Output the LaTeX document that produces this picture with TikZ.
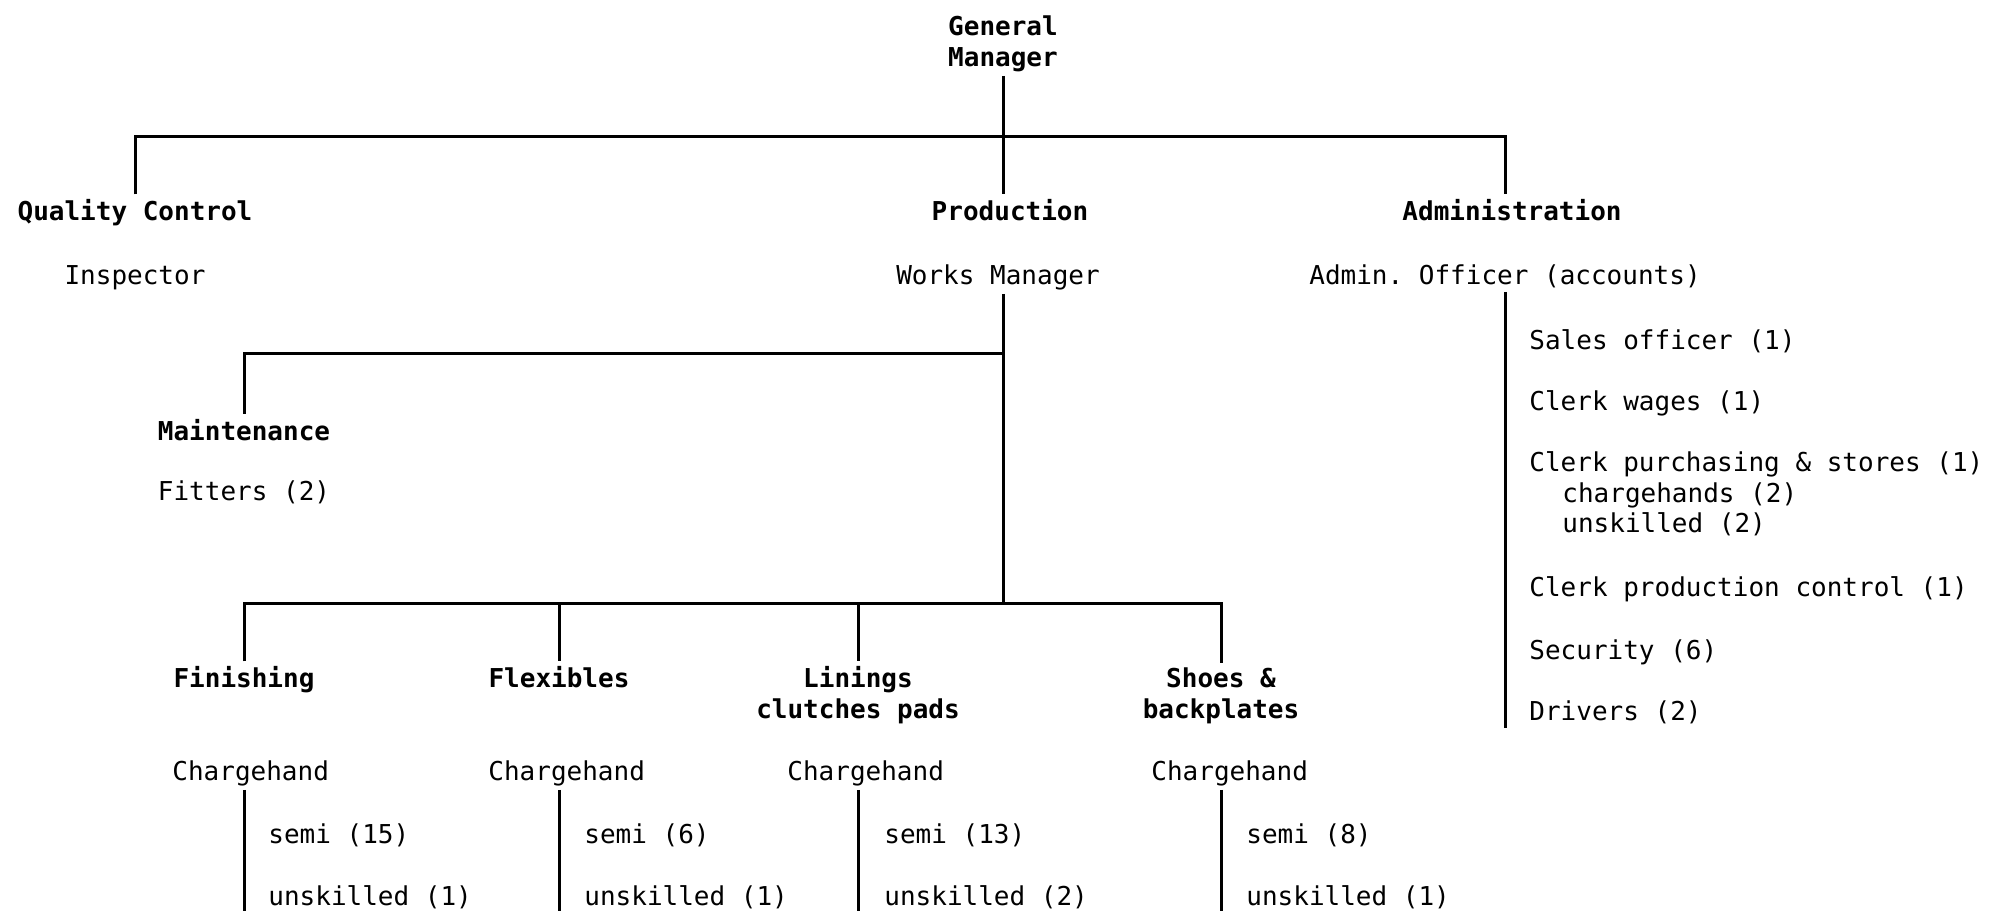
\documentclass[tikz,border=0pt]{standalone}
\usepackage{fontspec}
\setmonofont{DejaVu Sans Mono}
\usepackage{tikz}

\tikzset{
  post/.style={font=\ttfamily\fontsize{13}{15.5}\selectfont, inner xsep=0pt, inner ysep=2pt},
  dept/.style={post, font=\ttfamily\bfseries\fontsize{13}{15.5}\selectfont, align=center},
  link/.style={line width=1.5pt},
}

\begin{document}
\begin{tikzpicture}[x=0.5pt,y=-0.5pt]
\useasboundingbox (0,0) rectangle (1990,910);

% top level
\node[dept, anchor=base] (gm) at (1003,66) {General\\Manager};
\node[dept, anchor=base] (qc) at (135,220) {Quality Control};
\node[dept, anchor=base] (prod) at (1010,220) {Production};
\node[dept, anchor=base] (adm) at (1512,220) {Administration};
\node[post, anchor=base] (insp) at (135,284) {Inspector};
\node[post, anchor=base] (wm) at (998,284) {Works Manager};
\node[post, anchor=base] (admoff) at (1505,284) {Admin. Officer (accounts)};

\coordinate (topbus) at (0,136);
\coordinate (mntbus) at (0,353);
\coordinate (lowbus) at (0,603);

\draw[link] (gm.south) -- (gm |- topbus);
\draw[link] (qc.north) -- (qc.north |- topbus) -| (admoff |- adm.north);
\draw[link] (gm |- topbus) -- (gm |- prod.north);

% administration staff
\node[post, anchor=base west] (sales) at (1529,349) {Sales officer (1)};
\node[post, anchor=base west] (wages) at (1529,410) {Clerk wages (1)};
\node[post, anchor=base west] (purch) at (1529,471) {Clerk purchasing \& stores (1)};
\node[post, anchor=base west] (purchch) at (1562,502) {chargehands (2)};
\node[post, anchor=base west] (purchun) at (1562,532) {unskilled (2)};
\node[post, anchor=base west] (prodctl) at (1529,596) {Clerk production control (1)};
\node[post, anchor=base west] (secur) at (1529,659) {Security (6)};
\node[post, anchor=base west] (drivers) at (1529,720) {Drivers (2)};
\draw[link] (admoff.south) -- (admoff.south |- drivers.south);

% maintenance
\node[dept, anchor=base] (maint) at (244,440) {Maintenance};
\node[post, anchor=base] (fit) at (244,500) {Fitters (2)};
\draw[link] (wm.south -| gm) -- (gm |- lowbus);
\draw[link] (gm |- mntbus) -| (maint.north);

% production sections
\node[dept, anchor=base] (fin) at (244,687) {Finishing};
\node[dept, anchor=base] (flex) at (559,687) {Flexibles};
\node[dept, anchor=base] (lin) at (858,718) {Linings\\clutches pads};
\node[dept, anchor=base] (shoe) at (1221,718) {Shoes \&\\backplates};

\draw[link] (fin.north) -- (fin.north |- lowbus) -- (shoe.north |- lowbus) -- (shoe.north);
\draw[link] (flex.north |- lowbus) -- (flex.north);
\draw[link] (lin.north |- lowbus) -- (lin.north);

\node[post, anchor=base west] (ch1) at (172,780) {Chargehand};
\node[post, anchor=base west] (ch2) at (488,780) {Chargehand};
\node[post, anchor=base west] (ch3) at (787,780) {Chargehand};
\node[post, anchor=base west] (ch4) at (1151,780) {Chargehand};

\node[post, anchor=base west] (semi1) at (268,843) {semi (15)};
\node[post, anchor=base west] (unsk1) at (268,905) {unskilled (1)};
\node[post, anchor=base west] (semi2) at (584,843) {semi (6)};
\node[post, anchor=base west] (unsk2) at (584,905) {unskilled (1)};
\node[post, anchor=base west] (semi3) at (884,843) {semi (13)};
\node[post, anchor=base west] (unsk3) at (884,905) {unskilled (2)};
\node[post, anchor=base west] (semi4) at (1246,843) {semi (8)};
\node[post, anchor=base west] (unsk4) at (1246,905) {unskilled (1)};

\draw[link] (ch1.south -| fin) -- (unsk1.south -| fin);
\draw[link] (ch2.south -| flex) -- (unsk2.south -| flex);
\draw[link] (ch3.south -| lin) -- (unsk3.south -| lin);
\draw[link] (ch4.south -| shoe) -- (unsk4.south -| shoe);

\end{tikzpicture}
\end{document}
